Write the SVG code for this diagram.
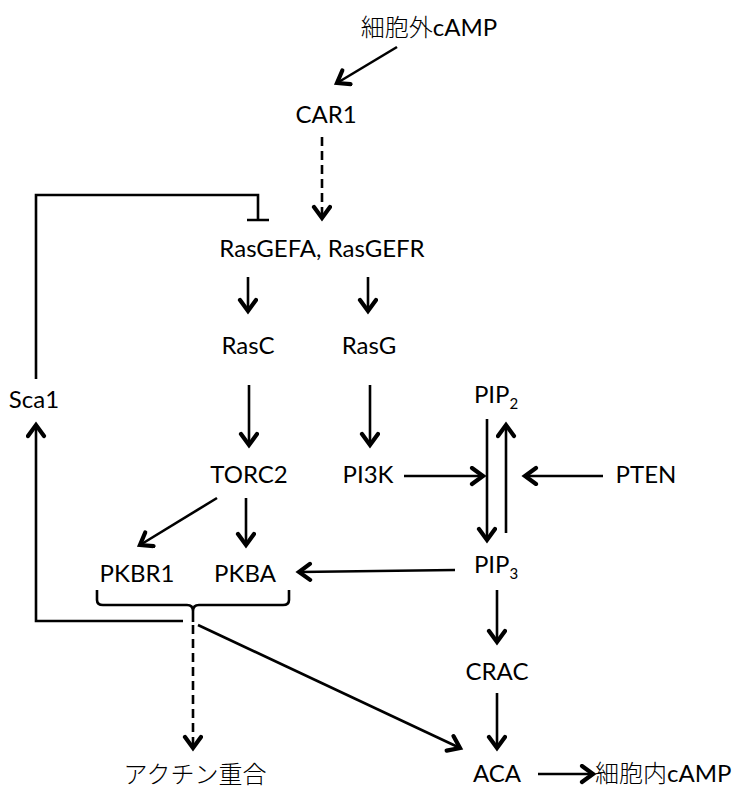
<svg xmlns="http://www.w3.org/2000/svg" width="743" height="787" viewBox="0 0 743 787">
  <style>
    .lbl { font-family: "Lato", "Noto Sans CJK JP", sans-serif; font-size: 24px; fill: #000; text-anchor: middle; }
    .jp { font-weight: 300; }
    .sub { font-size: 15px; }
    .ln { stroke: #000; stroke-width: 2.6; fill: none; }
    .arr { marker-end: url(#head); }
    .dash { stroke-dasharray: 9 5; }
  </style>
  <defs>
    <marker id="head" markerUnits="userSpaceOnUse" markerWidth="22" markerHeight="22" refX="14" refY="10" orient="auto">
      <path d="M3,2 L14,10 L3,18" fill="none" stroke="#000" stroke-width="4.2" stroke-linejoin="miter" stroke-linecap="round"/>
    </marker>
  </defs>
  <rect width="743" height="787" fill="#fff"/>

  <!-- connectors -->
  <g id="connectors">
    <line class="ln arr" x1="397" y1="47" x2="337" y2="83"/>
    <line class="ln arr dash" x1="322" y1="137" x2="322" y2="218"/>
    <path class="ln" d="M36,379 V195 H258 V220 M247,220 H269"/>
    <line class="ln arr" x1="248" y1="277" x2="248" y2="311"/>
    <line class="ln arr" x1="368" y1="277" x2="368" y2="311"/>
    <line class="ln arr" x1="249" y1="385" x2="249" y2="445"/>
    <line class="ln arr" x1="370" y1="385" x2="370" y2="445"/>
    <line class="ln arr" x1="404" y1="476" x2="483" y2="476"/>
    <line class="ln arr" x1="603" y1="476" x2="525" y2="476"/>
    <line class="ln arr" x1="487" y1="419" x2="487" y2="540"/>
    <line class="ln arr" x1="506" y1="533" x2="506" y2="425"/>
    <line class="ln arr" x1="455" y1="570" x2="299" y2="572"/>
    <line class="ln arr" x1="217" y1="498" x2="140" y2="545"/>
    <line class="ln arr" x1="246" y1="498" x2="246" y2="545"/>
    <line class="ln arr" x1="497" y1="590" x2="497" y2="642"/>
    <line class="ln arr" x1="497" y1="693" x2="497" y2="748"/>
    <line class="ln arr" x1="538" y1="774" x2="593" y2="774"/>
    <!-- brace under PKBR1 / PKBA -->
    <path class="ln" d="M97,590 V600 Q97,605 103,605 H187 Q193,605 193,611 Q193,605 199,605 H283 Q289,605 289,600 V590 M193,608 V622"/>
    <polyline class="ln arr" points="183,621 36,621 36,425"/>
    <line class="ln arr dash" x1="193" y1="625" x2="193" y2="748"/>
    <line class="ln arr" x1="198" y1="625" x2="460" y2="748"/>
  </g>

  <!-- nodes -->
  <g id="camp-ext"><text class="lbl" x="429" y="36"><tspan class="jp">細胞外</tspan>cAMP</text></g>
  <g id="car1"><text class="lbl" x="326" y="123">CAR1</text></g>
  <g id="rasgef"><text class="lbl" x="322" y="257">RasGEFA, RasGEFR</text></g>
  <g id="rasc"><text class="lbl" x="248" y="354">RasC</text></g>
  <g id="rasg"><text class="lbl" x="369" y="354">RasG</text></g>
  <g id="sca1"><text class="lbl" x="34" y="408">Sca1</text></g>
  <g id="pip2"><text class="lbl" x="496" y="403">PIP<tspan class="sub" dy="6">2</tspan></text></g>
  <g id="torc2"><text class="lbl" x="249" y="483">TORC2</text></g>
  <g id="pi3k"><text class="lbl" x="368" y="483">PI3K</text></g>
  <g id="pten"><text class="lbl" x="646" y="483">PTEN</text></g>
  <g id="pip3"><text class="lbl" x="496" y="573">PIP<tspan class="sub" dy="6">3</tspan></text></g>
  <g id="pkbr1"><text class="lbl" x="137" y="582">PKBR1</text></g>
  <g id="pkba"><text class="lbl" x="245" y="582">PKBA</text></g>
  <g id="crac"><text class="lbl" x="497" y="680">CRAC</text></g>
  <g id="actin"><text class="lbl jp" x="195" y="783">アクチン重合</text></g>
  <g id="aca"><text class="lbl" x="497" y="782">ACA</text></g>
  <g id="camp-int"><text class="lbl" x="595" y="782" style="text-anchor:start"><tspan class="jp">細胞内</tspan>cAMP</text></g>
</svg>
